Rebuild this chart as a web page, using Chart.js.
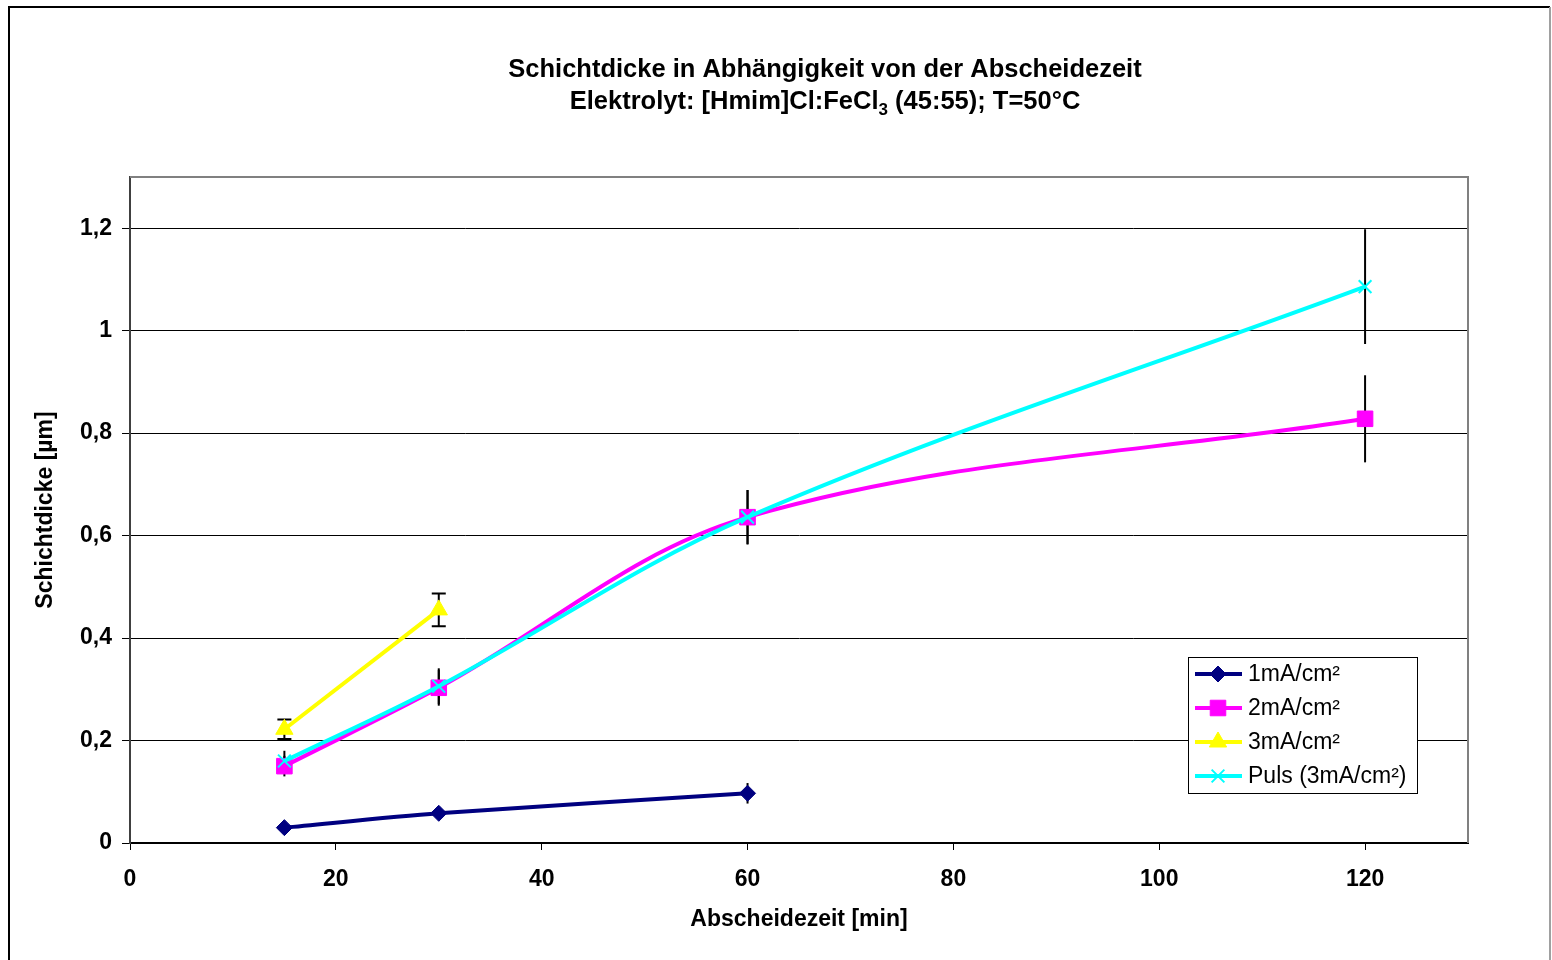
<!DOCTYPE html>
<html>
<head>
<meta charset="utf-8">
<script src="https://cdn.jsdelivr.net/npm/chart.js@4.4.1/dist/chart.umd.min.js"></script>
<style>
  body { margin: 0; background: #fff; }
  #wrap { width: 1552px; height: 960px; position: relative; }
</style>
</head>
<body>
<div id="wrap"><canvas id="thickness-chart"></canvas></div>
<script>
// Data
const time1 = [15, 30, 60];
const thick1 = [0.030, 0.058, 0.097];
const err1 = [0, 0, 0.02];

const time2 = [15, 30, 60, 120];
const thick2 = [0.150, 0.303, 0.636, 0.828];
const err2 = [0.02, 0.035, 0.053, 0.085];

const time3 = [15, 30];
const thick3 = [0.222, 0.455];
const err3 = [0.019, 0.032];

const timeP = [15, 30, 60, 120];
const thickP = [0.160, 0.306, 0.636, 1.086];
const errP = [0.02, 0.035, 0.053, 0.112];

const seriesLabels = ['1mA/cm²', '2mA/cm²', '3mA/cm²', 'Puls (3mA/cm²)'];

const FONT = '"Liberation Sans", Arial, sans-serif';

function toPoints(xs, ys) {
    return xs.map((x, i) => ({ x: x, y: ys[i] }));
}

function fmt(v) {
    return (Math.round(v * 10) / 10).toString().replace('.', ',');
}

// Outer frame, plot border, title and legend
const framePlugin = {
    id: 'frame',
    beforeDraw(chart) {
        const ctx = chart.ctx;
        ctx.save();
        ctx.fillStyle = '#fff';
        ctx.fillRect(0, 0, chart.width, chart.height);
        ctx.strokeStyle = '#000';
        ctx.lineWidth = 2;
        ctx.beginPath();
        ctx.moveTo(9, 1000); ctx.lineTo(9, 7); ctx.lineTo(1550, 7);
        ctx.stroke();
        ctx.strokeStyle = '#a0a0a0';
        ctx.beginPath();
        ctx.moveTo(1550, 7); ctx.lineTo(1550, 1000);
        ctx.stroke();

        // title with subscript
        ctx.fillStyle = '#000';
        ctx.textBaseline = 'middle';
        ctx.textAlign = 'center';
        ctx.font = 'bold 25.5px ' + FONT;
        ctx.fillText('Schichtdicke in Abhängigkeit von der Abscheidezeit', 825, 70);
        const a = 'Elektrolyt: [Hmim]Cl:FeCl', sub = '3', b = ' (45:55); T=50°C';
        const wa = ctx.measureText(a).width, wb = ctx.measureText(b).width;
        ctx.font = 'bold 17px ' + FONT;
        const ws = ctx.measureText(sub).width;
        const x = 825 - (wa + ws + wb) / 2;
        ctx.textAlign = 'left';
        ctx.font = 'bold 25.5px ' + FONT;
        ctx.fillText(a, x, 102);
        ctx.font = 'bold 17px ' + FONT;
        ctx.fillText(sub, x + wa, 110);
        ctx.font = 'bold 25.5px ' + FONT;
        ctx.fillText(b, x + wa + ws, 102);
        ctx.restore();
    },
    afterDraw(chart) {
        const { ctx, chartArea: ca } = chart;
        ctx.save();
        ctx.strokeStyle = '#808080';
        ctx.lineWidth = 2;
        ctx.beginPath();
        ctx.moveTo(ca.left, ca.top); ctx.lineTo(ca.right, ca.top); ctx.lineTo(ca.right, ca.bottom);
        ctx.stroke();

        // legend box
        const lx = 1188, ly = 657, lw = 229, lh = 136;
        ctx.fillStyle = '#fff';
        ctx.fillRect(lx, ly, lw, lh);
        ctx.strokeStyle = '#000';
        ctx.lineWidth = 1;
        ctx.strokeRect(lx + 0.5, ly + 0.5, lw, lh);
        chart.data.datasets.forEach((ds, i) => {
            const y = ly + 17 + i * 34;
            ctx.strokeStyle = ds.borderColor;
            ctx.lineWidth = 4;
            ctx.beginPath();
            ctx.moveTo(lx + 7, y); ctx.lineTo(lx + 54, y);
            ctx.stroke();
            ctx.fillStyle = ds.pointBackgroundColor;
            ctx.strokeStyle = ds.pointBorderColor;
            ctx.lineWidth = ds.pointBorderWidth;
            Chart.helpers.drawPoint(ctx, { pointStyle: ds.pointStyle, radius: ds.pointRadius, borderWidth: ds.pointBorderWidth, rotation: 0 }, lx + 30, y);
            ctx.fillStyle = '#000';
            ctx.font = '23px ' + FONT;
            ctx.textAlign = 'left';
            ctx.textBaseline = 'middle';
            ctx.fillText(ds.label, lx + 60, y + 1);
        });
        ctx.restore();
    }
};

// Error bars, drawn under the lines
const errorBarPlugin = {
    id: 'errorBars',
    beforeDatasetsDraw(chart) {
        const { ctx, scales: { x, y } } = chart;
        ctx.save();
        ctx.strokeStyle = '#000';
        ctx.lineWidth = 2;
        chart.data.datasets.forEach(ds => {
            ds.data.forEach((p, i) => {
                const e = ds.errors[i];
                if (!e) return;
                const px = x.getPixelForValue(p.x);
                const top = y.getPixelForValue(p.y + e);
                const bot = y.getPixelForValue(p.y - e);
                ctx.beginPath();
                ctx.moveTo(px, top); ctx.lineTo(px, bot);
                if (ds.caps) {
                    ctx.moveTo(px - 7, top); ctx.lineTo(px + 7, top);
                    ctx.moveTo(px - 7, bot); ctx.lineTo(px + 7, bot);
                }
                ctx.stroke();
            });
        });
        ctx.restore();
    }
};

const ctx = document.getElementById('thickness-chart').getContext('2d');

new Chart(ctx, {
    type: 'line',
    data: {
        datasets: [{
            label: seriesLabels[0],
            data: toPoints(time1, thick1),
            errors: err1,
            borderColor: '#000080',
            pointBackgroundColor: '#000080',
            pointBorderColor: '#000080',
            pointStyle: 'rectRot',
            pointRadius: 8,
            pointBorderWidth: 1,
            borderWidth: 4,
            tension: 0.3,
            order: 3
        }, {
            label: seriesLabels[1],
            data: toPoints(time2, thick2),
            errors: err2,
            borderColor: '#ff00ff',
            pointBackgroundColor: '#ff00ff',
            pointBorderColor: '#ff00ff',
            pointStyle: 'rect',
            pointRadius: 11,
            pointBorderWidth: 1,
            borderWidth: 4,
            tension: 0.35,
            order: 2
        }, {
            label: seriesLabels[2],
            data: toPoints(time3, thick3),
            errors: err3,
            caps: true,
            borderColor: '#ffff00',
            pointBackgroundColor: '#ffff00',
            pointBorderColor: '#ffff00',
            pointStyle: 'triangle',
            pointRadius: 10,
            pointBorderWidth: 1,
            borderWidth: 4,
            tension: 0,
            order: 1
        }, {
            label: seriesLabels[3],
            data: toPoints(timeP, thickP),
            errors: errP,
            borderColor: '#00ffff',
            pointBackgroundColor: '#00ffff',
            pointBorderColor: '#00ffff',
            pointStyle: 'crossRot',
            pointRadius: 9,
            pointBorderWidth: 2,
            borderWidth: 4,
            tension: 0.35,
            order: 0
        }]
    },
    options: {
        responsive: true,
        maintainAspectRatio: false,
        animation: false,
        layout: { padding: { top: 177, right: 84, left: 0, bottom: 0 } },
        scales: {
            x: {
                type: 'linear',
                min: 0,
                max: 130,
                afterBuildTicks: s => { s.ticks = s.ticks.filter(t => t.value <= 120); },
                afterFit: s => { s.height = 117; },
                ticks: {
                    stepSize: 20,
                    color: '#000',
                    padding: 16,
                    font: { family: FONT, size: 23, weight: 'bold' },
                    callback: v => fmt(v)
                },
                grid: { drawOnChartArea: false, drawTicks: true, tickLength: 7, color: '#000' },
                border: { color: '#000', width: 2 },
                title: {
                    display: true,
                    text: 'Abscheidezeit [min]',
                    color: '#000',
                    padding: { top: 0, bottom: 27 },
                    font: { family: FONT, size: 23, weight: 'bold' }
                }
            },
            y: {
                min: 0,
                max: 1.3,
                afterBuildTicks: s => { s.ticks = s.ticks.filter(t => t.value <= 1.21); },
                afterFit: s => { s.width = 130; },
                ticks: {
                    stepSize: 0.2,
                    color: '#000',
                    padding: 10,
                    font: { family: FONT, size: 23, weight: 'bold' },
                    callback: v => fmt(v)
                },
                grid: { color: '#000', lineWidth: 1, tickLength: 8 },
                border: { color: '#404040', width: 2 },
                title: {
                    display: true,
                    text: 'Schichtdicke [µm]',
                    color: '#000',
                    padding: { top: 32, bottom: 0 },
                    font: { family: FONT, size: 23, weight: 'bold' }
                }
            }
        },
        plugins: {
            legend: { display: false },
            tooltip: { enabled: false }
        }
    },
    plugins: [framePlugin, errorBarPlugin]
});
</script>
</body>
</html>
